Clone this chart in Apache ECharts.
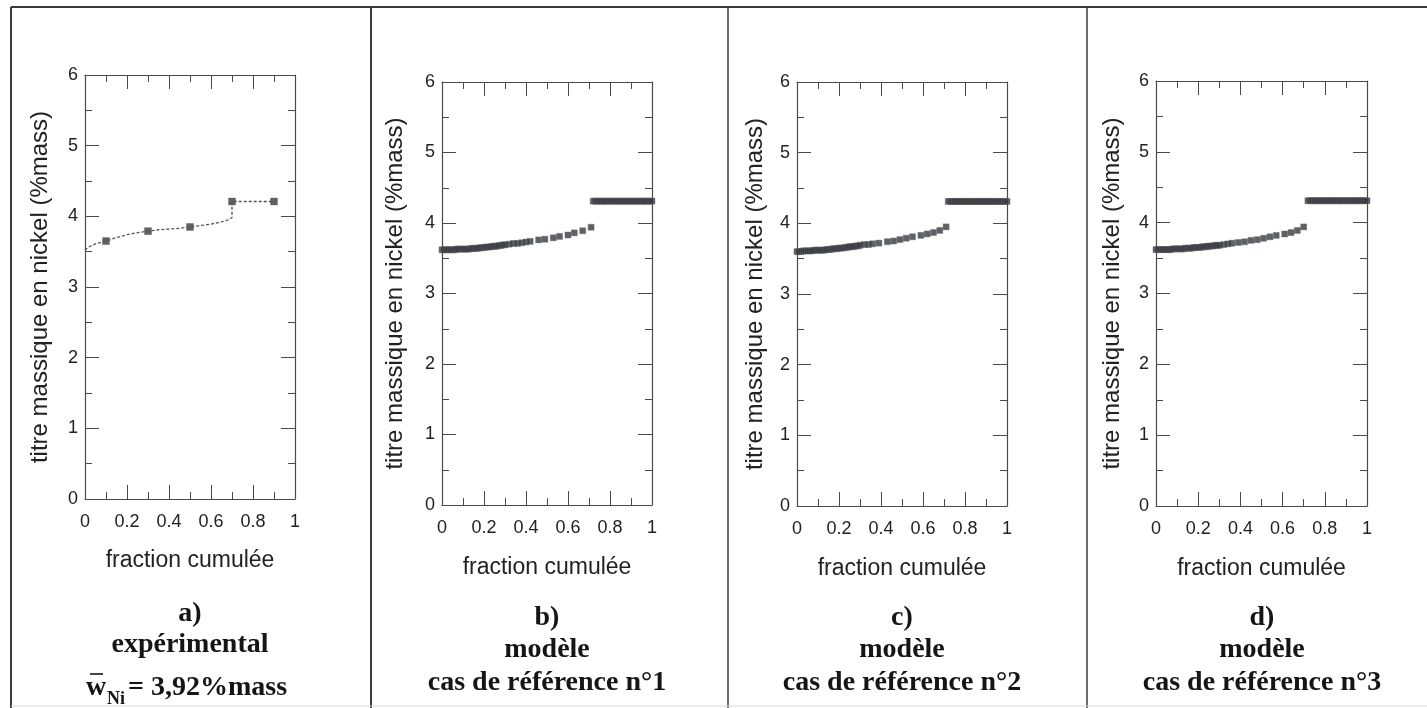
<!DOCTYPE html>
<html>
<head>
<meta charset="utf-8">
<script src="https://cdn.jsdelivr.net/npm/echarts@6/dist/echarts.min.js"></script>
<style>
html,body{margin:0;padding:0;background:#fff;}
#chart{width:1427px;height:708px;}
</style>
</head>
<body>
<div id="chart"></div>
<script>
// ---------- DATA ----------
var xTicks = [0, 0.2, 0.4, 0.6, 0.8, 1];
var yTicks = [0, 1, 2, 3, 4, 5, 6];
var xAxisTitle = 'fraction cumulée';
var yAxisTitle = 'titre massique en nickel (%mass)';

// a) experimental: fitted curve and measured points
var expCurveX = [0, 0.02, 0.05, 0.1, 0.15, 0.2, 0.25, 0.3, 0.35, 0.4, 0.45, 0.5, 0.55, 0.6, 0.65, 0.68, 0.7, 0.7, 0.9];
var expCurveY = [3.52, 3.57, 3.61, 3.65, 3.70, 3.74, 3.77, 3.79, 3.81, 3.82, 3.83, 3.85, 3.87, 3.89, 3.92, 3.95, 3.98, 4.21, 4.21];
var expPtsX = [0.1, 0.3, 0.5, 0.7, 0.9];
var expPtsY = [3.65, 3.79, 3.85, 4.21, 4.21];

// b) model, reference case 1
var bX = [0.00,0.01,0.02,0.03,0.04,0.05,0.06,0.07,0.08,0.09,0.10,0.11,0.12,0.13,0.14,0.15,0.16,0.17,0.18,0.19,0.20,0.21,0.22,0.23,0.24,0.25,0.26,0.27,0.28,0.29,0.30,0.32,0.34,0.36,0.38,0.40,0.42,0.46,0.49,0.53,0.56,0.60,0.63,0.67,0.71,
          0.72,0.73,0.74,0.75,0.76,0.77,0.78,0.79,0.80,0.81,0.82,0.83,0.84,0.85,0.86,0.87,0.88,0.89,0.90,0.91,0.92,0.93,0.94,0.95,0.96,0.97,0.98,0.99,1.00];
var bY = [3.62,3.62,3.62,3.62,3.62,3.62,3.62,3.63,3.63,3.63,3.63,3.63,3.63,3.63,3.64,3.64,3.64,3.64,3.65,3.65,3.65,3.66,3.66,3.66,3.67,3.67,3.67,3.68,3.68,3.69,3.69,3.70,3.71,3.71,3.72,3.73,3.74,3.76,3.77,3.79,3.81,3.83,3.86,3.89,3.94,
          4.31,4.31,4.31,4.31,4.31,4.31,4.31,4.31,4.31,4.31,4.31,4.31,4.31,4.31,4.31,4.31,4.31,4.31,4.31,4.31,4.31,4.31,4.31,4.31,4.31,4.31,4.31,4.31,4.31];

// c) model, reference case 2
var cX = [0.00,0.01,0.02,0.03,0.04,0.05,0.06,0.07,0.08,0.09,0.10,0.11,0.12,0.13,0.14,0.15,0.16,0.17,0.18,0.19,0.20,0.21,0.22,0.23,0.24,0.25,0.26,0.27,0.28,0.29,0.30,0.32,0.34,0.36,0.39,0.43,0.46,0.49,0.52,0.55,0.59,0.62,0.65,0.68,0.71,
          0.72,0.73,0.74,0.75,0.76,0.77,0.78,0.79,0.80,0.81,0.82,0.83,0.84,0.85,0.86,0.87,0.88,0.89,0.90,0.91,0.92,0.93,0.94,0.95,0.96,0.97,0.98,0.99,1.00];
var cY = [3.60,3.60,3.60,3.61,3.61,3.61,3.61,3.61,3.62,3.62,3.62,3.62,3.62,3.62,3.63,3.63,3.63,3.64,3.64,3.64,3.65,3.65,3.65,3.66,3.66,3.67,3.67,3.67,3.68,3.68,3.69,3.70,3.70,3.71,3.72,3.74,3.75,3.77,3.79,3.81,3.83,3.85,3.87,3.90,3.95,
          4.31,4.31,4.31,4.31,4.31,4.31,4.31,4.31,4.31,4.31,4.31,4.31,4.31,4.31,4.31,4.31,4.31,4.31,4.31,4.31,4.31,4.31,4.31,4.31,4.31,4.31,4.31,4.31,4.31];

// d) model, reference case 3
var dX = [0.00,0.01,0.02,0.03,0.04,0.05,0.06,0.07,0.08,0.09,0.10,0.11,0.12,0.13,0.14,0.15,0.16,0.17,0.18,0.19,0.20,0.21,0.22,0.23,0.24,0.25,0.26,0.27,0.28,0.29,0.30,0.32,0.34,0.36,0.39,0.42,0.45,0.48,0.51,0.54,0.57,0.61,0.64,0.67,0.70,
          0.72,0.73,0.74,0.75,0.76,0.77,0.78,0.79,0.80,0.81,0.82,0.83,0.84,0.85,0.86,0.87,0.88,0.89,0.90,0.91,0.92,0.93,0.94,0.95,0.96,0.97,0.98,0.99,1.00];
var dY = [3.62,3.62,3.62,3.62,3.62,3.62,3.62,3.62,3.63,3.63,3.63,3.63,3.63,3.63,3.64,3.64,3.64,3.64,3.65,3.65,3.65,3.65,3.66,3.66,3.66,3.67,3.67,3.67,3.68,3.68,3.68,3.69,3.70,3.71,3.72,3.73,3.75,3.76,3.78,3.80,3.82,3.84,3.86,3.89,3.94,
          4.31,4.31,4.31,4.31,4.31,4.31,4.31,4.31,4.31,4.31,4.31,4.31,4.31,4.31,4.31,4.31,4.31,4.31,4.31,4.31,4.31,4.31,4.31,4.31,4.31,4.31,4.31,4.31,4.31];

var panelLetters = ['a)', 'b)', 'c)', 'd)'];
var panelLine2 = ['expérimental', 'modèle', 'modèle', 'modèle'];
var panelLine3 = ['', 'cas de référence n°1', 'cas de référence n°2', 'cas de référence n°3'];
var meanLabel = ['w', 'Ni', '= 3,92%mass'];

// ---------- LAYOUT ----------
var grids = [
  {left: 85,  top: 75, width: 210, height: 424},
  {left: 442, top: 82, width: 210, height: 423},
  {left: 797, top: 82, width: 210, height: 424},
  {left: 1156, top: 81, width: 211, height: 425}
];
var yNameGap = [33, 35, 30, 32];
var xNameGap = [50, 51, 51, 51];

function zip(xs, ys) { return xs.map(function (x, i) { return [x, ys[i]]; }); }

var SANS = '"Liberation Sans", Arial, sans-serif';
var SERIF = '"Liberation Serif", "Times New Roman", serif';
var AX = '#4a4a4a';

var xAxes = [], yAxes = [];
grids.forEach(function (g, i) {
  var common = {
    type: 'value', gridIndex: i,
    axisLine: {show: true, onZero: false, lineStyle: {color: AX, width: 1.2}},
    axisTick: {show: true, inside: true, length: 14, lineStyle: {color: AX, width: 1}},
    minorTick: {show: true, splitNumber: 2, length: 7, lineStyle: {color: AX, width: 1}},
    splitLine: {show: false}, minorSplitLine: {show: false}
  };
  xAxes.push(Object.assign({}, common, {
    position: 'bottom', min: xTicks[0], max: xTicks[xTicks.length - 1], interval: 0.2,
    axisLabel: {show: true, margin: 14, fontFamily: SANS, fontSize: 18, color: '#222'},
    name: xAxisTitle, nameLocation: 'middle', nameGap: xNameGap[i],
    nameTextStyle: {fontFamily: SANS, fontSize: 23, color: '#222'}
  }));
  xAxes.push(Object.assign({}, common, {
    position: 'top', min: 0, max: 1, interval: 0.2, axisLabel: {show: false}
  }));
  yAxes.push(Object.assign({}, common, {
    position: 'left', min: yTicks[0], max: yTicks[yTicks.length - 1], interval: 1,
    axisLabel: {show: true, margin: 7, fontFamily: SANS, fontSize: 18, color: '#222'},
    name: yAxisTitle, nameLocation: 'middle', nameGap: yNameGap[i],
    nameTextStyle: {fontFamily: SANS, fontSize: 24, color: '#222'}
  }));
  yAxes.push(Object.assign({}, common, {
    position: 'right', min: 0, max: 6, interval: 1, axisLabel: {show: false}
  }));
});

var markerStyle = {color: '#363a3e', borderColor: '#666', borderWidth: 0.5};
var series = [
  {type: 'line', xAxisIndex: 0, yAxisIndex: 0, data: zip(expCurveX, expCurveY), showSymbol: false, symbol: 'none',
   lineStyle: {color: '#555', width: 1.3, type: [3, 2]}, silent: true, animation: false},
  {type: 'scatter', xAxisIndex: 0, yAxisIndex: 0, data: zip(expPtsX, expPtsY), symbol: 'rect', symbolSize: 7,
   itemStyle: markerStyle, animation: false},
  {type: 'scatter', xAxisIndex: 2, yAxisIndex: 2, data: zip(bX, bY), symbol: 'rect', symbolSize: 6,
   itemStyle: markerStyle, animation: false},
  {type: 'scatter', xAxisIndex: 4, yAxisIndex: 4, data: zip(cX, cY), symbol: 'rect', symbolSize: 6,
   itemStyle: markerStyle, animation: false},
  {type: 'scatter', xAxisIndex: 6, yAxisIndex: 6, data: zip(dX, dY), symbol: 'rect', symbolSize: 6,
   itemStyle: markerStyle, animation: false}
];

// ---------- FRAME & CAPTIONS ----------
var graphics = [];
function line(x1, y1, x2, y2, w, c) {
  graphics.push({type: 'line', shape: {x1: x1, y1: y1, x2: x2, y2: y2}, style: {stroke: c || '#333', lineWidth: w || 2}, silent: true});
}
line(11, 7, 1427, 7, 2, '#3a3a3a');
line(11, 7, 11, 708, 2, '#3a3a3a');
line(371, 7, 371, 708, 2, '#3a3a3a');
line(728, 7, 728, 708, 1.5, '#3a3a3a');
line(1087, 7, 1087, 708, 1.5, '#3a3a3a');
line(11, 706, 1427, 706, 1, '#d8d8d8');

function txt(s, x, y, size, align) {
  graphics.push({type: 'text', x: x, y: y, silent: true,
    style: {text: s, font: 'bold ' + size + 'px ' + SERIF, fill: '#151515', textAlign: align || 'center', textVerticalAlign: 'middle'}});
}
var capX = [190, 547, 902, 1262];
grids.forEach(function (g, i) {
  var yy = i === 0 ? [614, 645] : [618, 650];
  txt(panelLetters[i], capX[i], yy[0], 28);
  txt(panelLine2[i], capX[i], yy[1], 28);
  if (panelLine3[i]) txt(panelLine3[i], capX[i], 683, 28);
});
// mean composition  w̄_Ni = 3,92%mass
txt(meanLabel[0], 96, 688, 28);
line(90, 674, 103, 674, 1.6, '#151515');
txt(meanLabel[1], 116, 699, 18);
txt(meanLabel[2], 128, 688, 28, 'left');

var chart = echarts.init(document.getElementById('chart'));
chart.setOption({
  animation: false,
  backgroundColor: '#ffffff',
  grid: grids,
  xAxis: xAxes,
  yAxis: yAxes,
  series: series,
  graphic: graphics
});
</script>
</body>
</html>
